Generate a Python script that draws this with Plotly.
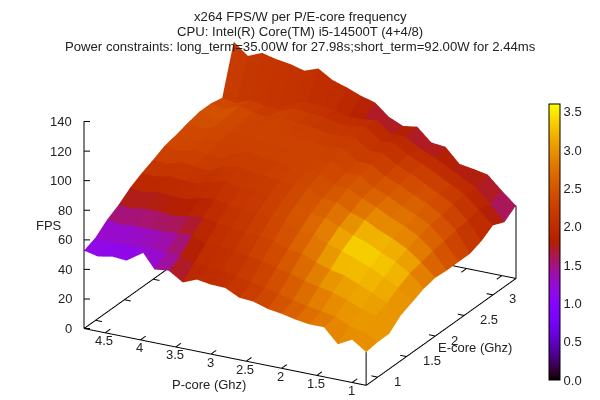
import numpy as np
import plotly.graph_objects as go

P_CORE = [4.8,4.6,4.4,4.2,4.0,3.8,3.6,3.4,3.2,3.0,2.8,2.6,2.4,2.2,2.0,1.8,1.6,1.4,1.2,1.0,0.8]
E_CORE = [0.8,1.0,1.2,1.4,1.6,1.8,2.0,2.2,2.4,2.6,2.8,3.0,3.2,3.4]
FPS = [
 [52.7,50.6,52.5,51.7,61.5,49.5,50.7,44.6,48.5,47,46.7,42,41.3,38.3,36.9,34.8,33.5,33.6,23.9,29,22.5],
 [56,54.5,55,56,56,55.5,55,52,52,51,49,47,45,43,40.6,38.4,37,35,31,29,23.7],
 [62.5,61,62,62,62,63,63,60,60,59,57,56,53,51,48,46,44,41,37,34,23.8],
 [67,66.5,68,68,67,69,70,68,67,66,65,64,60,59,55,52,50,46,42,37,30.6],
 [73,72,74,73,73,76,77,75,74,73,72,72,67,66,62,59,55.5,52,47,42,34],
 [77.3,77,79,78,78,81,83,81,81,79,78,78,73,72,68,64,61,56,52,46,37.5],
 [80.8,80,83,82,81,86,88,86,85,84,83,83,78,77,72,69,64,60,55,48,39.4],
 [84.7,83,86,85,84,89,92,90,89,87,87,87,81,81,76,72,67,63,58,50,38.8],
 [86.6,85,88,87,86,91,94,93,92,90,89,90,84,84,78,74,69,65,60,51,38.9],
 [89,87,91,89,88,93,96,95,94,92,92,93,86,86,80,76,71,67,61,53,38.9],
 [91,88,92,90,89,95,98,97,96,94,94,95,88,88,82,78,73,68,63,54,41.9],
 [91,89,93,91,90,96,99,98,97,95,95,96,89,89,83,79,74,69,64,56,47],
 [89.4,87.7,91.6,89.7,89,95,98,97.4,96,93.8,94,95,88,88,82,78,73,68,63,54,43.6],
 [121.8,114,118,115.7,114.3,111.7,115.1,109.2,106.2,102.5,99.9,92,87.8,89.2,80.5,79.5,69.8,68.3,66.4,57.5,49.3],
]
FPS_PER_W = [
 [1.2,1.15,1.1,1.15,1.15,1.3,1.5,1.9,1.95,2.0,2.05,2.15,2.25,2.35,2.5,2.6,2.7,2.75,2.95,2.85,3.0],
 [1.15,1.15,1.15,1.2,1.25,1.35,1.55,1.95,2.0,2.05,2.1,2.2,2.3,2.45,2.55,2.7,2.85,2.9,3.0,3.0,3.0],
 [1.4,1.4,1.4,1.45,1.45,1.5,1.7,2.0,2.05,2.1,2.2,2.3,2.4,2.55,2.7,2.85,2.95,3.05,3.05,3.05,3.0],
 [1.65,1.65,1.65,1.7,1.7,1.75,1.85,2.05,2.1,2.15,2.25,2.35,2.5,2.65,2.8,3.05,3.15,3.15,3.15,3.05,2.95],
 [1.85,1.85,1.85,1.9,1.9,1.95,2.0,2.1,2.15,2.2,2.3,2.4,2.55,2.75,2.95,3.3,3.4,3.25,3.25,3.1,2.9],
 [2.05,2.05,2.05,2.05,2.05,2.05,2.1,2.15,2.15,2.2,2.3,2.4,2.55,2.75,2.9,3.25,3.4,3.3,3.35,3.1,2.8],
 [2.2,2.2,2.2,2.2,2.15,2.15,2.2,2.2,2.2,2.25,2.3,2.4,2.5,2.6,2.75,3.0,3.05,3.0,3.0,2.85,2.6],
 [2.3,2.3,2.3,2.3,2.2,2.25,2.25,2.25,2.25,2.3,2.3,2.35,2.4,2.5,2.6,2.75,2.85,2.8,2.75,2.65,2.4],
 [2.35,2.35,2.35,2.3,2.25,2.3,2.3,2.3,2.3,2.3,2.3,2.3,2.4,2.45,2.5,2.6,2.65,2.7,2.55,2.5,2.3],
 [2.35,2.4,2.35,2.3,2.25,2.3,2.3,2.25,2.3,2.3,2.25,2.25,2.3,2.3,2.35,2.45,2.5,2.55,2.45,2.3,2.15],
 [2.4,2.5,2.45,2.3,2.3,2.3,2.3,2.25,2.2,2.2,2.15,2.2,2.15,2.1,2.2,2.3,2.35,2.35,2.25,2.15,2.0],
 [2.4,2.45,2.4,2.3,2.25,2.2,2.2,2.15,2.1,2.1,2.1,2.05,2.05,2.0,2.1,2.15,2.15,2.15,2.05,2.0,1.85],
 [2.3,2.25,2.2,2.15,2.1,2.1,2.05,2.05,2.0,1.95,1.9,1.9,1.85,1.9,1.85,1.9,1.85,1.85,1.85,1.7,1.6],
 [2.1,2.1,2.05,2.1,2.1,2.1,2.05,2.0,1.95,1.85,1.7,1.4,1.75,1.7,1.45,1.75,1.7,1.7,1.7,1.65,1.45],
]
P_TICKS = [1,1.5,2,2.5,3,3.5,4,4.5]
P_LABELS = ["1","1.5","2","2.5","3","3.5","4","4.5"]
E_TICKS = [1,1.5,2,2.5,3]
E_LABELS = ["1","1.5","2","2.5","3"]
Z_TICKS = [0,20,40,60,80,100,120,140]
CB_TICKS = [0,0.5,1,1.5,2,2.5,3,3.5]
TITLE = ["x264 FPS/W per P/E-core frequency",
         "CPU: Intel(R) Core(TM) i5-14500T (4+4/8)",
         "Power constraints: long_term=35.00W for 27.98s;short_term=92.00W for 2.44ms"]

FONT = "Liberation Sans"
XMIN, XMAX = min(P_CORE), max(P_CORE)
YMIN, YMAX = min(E_CORE), max(E_CORE)
ZMAX = max(Z_TICKS)

# gnuplot default palette (rgbformulae 7,5,15)
stops = []
for t in np.linspace(0, 1, 65):
    r = np.sqrt(t); g = t ** 3; b = max(0, np.sin(2 * np.pi * t))
    stops.append([float(t), f"rgb({r*255:.0f},{g*255:.0f},{b*255:.0f})"])

nr, nc = len(E_CORE), len(P_CORE)
X, Y = np.meshgrid(P_CORE, E_CORE)
Z = np.array(FPS, float)
C = np.array(FPS_PER_W, float)
I, J, K, V = [], [], [], []
for r in range(nr - 1):
    for c in range(nc - 1):
        a, b, d, e = r*nc+c, r*nc+c+1, (r+1)*nc+c+1, (r+1)*nc+c
        m = C[r:r+2, c:c+2].mean()
        I += [a, a]; J += [b, d]; K += [d, e]; V += [m, m]

fig = go.Figure()
fig.add_trace(go.Mesh3d(
    x=X.ravel(), y=Y.ravel(), z=Z.ravel(), i=I, j=J, k=K,
    intensity=V, intensitymode="cell", colorscale=stops, cmin=0, cmax=3.6,
    flatshading=True, hoverinfo="skip",
    lighting=dict(ambient=1, diffuse=0, specular=0, roughness=1, fresnel=0),
    colorbar=dict(
        x=549/600, xanchor="left", xpad=0, ypad=0, y=1-104/400, yanchor="top",
        lenmode="pixels", len=275.5, thicknessmode="pixels", thickness=11,
        outlinecolor="black", outlinewidth=1, tickvals=CB_TICKS, tickformat=".1f",
        ticks="", tickfont=dict(family=FONT, size=13, color="#222"), ticklabelposition="outside"),
))

# axis frame
lx, ly, lz = [], [], []
def seg(p, q):
    lx.extend([p[0], q[0], None]); ly.extend([p[1], q[1], None]); lz.extend([p[2], q[2], None])
seg((XMAX,YMIN,0),(XMIN,YMIN,0)); seg((XMIN,YMIN,0),(XMIN,YMAX,0))
seg((XMAX,YMIN,0),(XMAX,YMAX,0)); seg((XMAX,YMAX,0),(XMIN,YMAX,0))
seg((XMAX,YMIN,0),(XMAX,YMIN,ZMAX))
seg((XMIN,YMIN,0),(XMIN,YMIN,FPS[0][-1]))
seg((XMIN,YMAX,0),(XMIN,YMAX,FPS[-1][-1]))
DY = 0.09; DX = 0.09
for t in P_TICKS:
    seg((t,YMIN,0),(t,YMIN+DY,0)); seg((t,YMAX,0),(t,YMAX-DY,0))
for t in E_TICKS:
    seg((XMIN,t,0),(XMIN+DX,t,0)); seg((XMAX,t,0),(XMAX-DX,t,0))
for t in Z_TICKS:
    seg((XMAX,YMIN,t),(XMAX-0.066,YMIN+0.023,t))
fig.add_trace(go.Scatter3d(x=lx,y=ly,z=lz,mode="lines",line=dict(color="black",width=2),
                           hoverinfo="skip",showlegend=False))

tf = dict(family=FONT, size=13, color="#222")
ann = []
for t, s in zip(P_TICKS, P_LABELS):
    ann.append(dict(x=t,y=YMIN,z=0,text=s,showarrow=False,font=tf,xshift=-1,yshift=-8))
for t, s in zip(E_TICKS, E_LABELS):
    ann.append(dict(x=XMIN,y=t,z=0,text=s,showarrow=False,font=tf,xanchor="left",xshift=14,yshift=-4))
for t in Z_TICKS:
    ann.append(dict(x=XMAX,y=YMIN,z=t,text=str(t),showarrow=False,font=tf,xanchor="right",xshift=-10,yshift=0))

paper = []
for s, yy in zip(TITLE, [16, 31, 46]):
    paper.append(dict(x=300/600,y=1-yy/400,xref="paper",yref="paper",text=s,showarrow=False,yanchor="middle",
                      font=dict(family=FONT,size=13.15,color="#222")))
for s, px, py in [("FPS",49,226),("P-core (Ghz)",209,384),("E-core (Ghz)",475,347)]:
    paper.append(dict(x=px/600,y=1-py/400,xref="paper",yref="paper",text=s,showarrow=False,
                      xanchor="center",yanchor="middle",font=tf))

ax = dict(visible=False, showgrid=False, zeroline=False, showbackground=False, showspikes=False)
EYE = np.array([0.434,-0.817,0.379]) * 4.5
SCALE = 1.6
EPS = 0.003
fig.update_layout(
    width=600, height=400, margin=dict(l=0,r=0,t=0,b=0,autoexpand=False), paper_bgcolor="white", showlegend=False,
    annotations=paper, font=dict(family=FONT),
    scene=dict(
        domain=dict(x=[0,1],y=[0,1]),
        xaxis=dict(range=[XMAX+EPS,XMIN-EPS],**ax), yaxis=dict(range=[YMIN-EPS,YMAX+EPS],**ax),
        zaxis=dict(range=[-0.1,ZMAX+0.1],**ax),
        aspectmode="manual", aspectratio=dict(x=SCALE,y=SCALE,z=0.7*SCALE),
        camera=dict(eye=dict(x=float(EYE[0]),y=float(EYE[1]),z=float(EYE[2])),
                    up=dict(x=0,y=0,z=1), center=dict(x=0,y=0,z=0),
                    projection=dict(type="orthographic")),
        annotations=ann),
)
fig.write_html("out.html", config=dict(displayModeBar=False), post_script="document.body.style.margin='0';")
